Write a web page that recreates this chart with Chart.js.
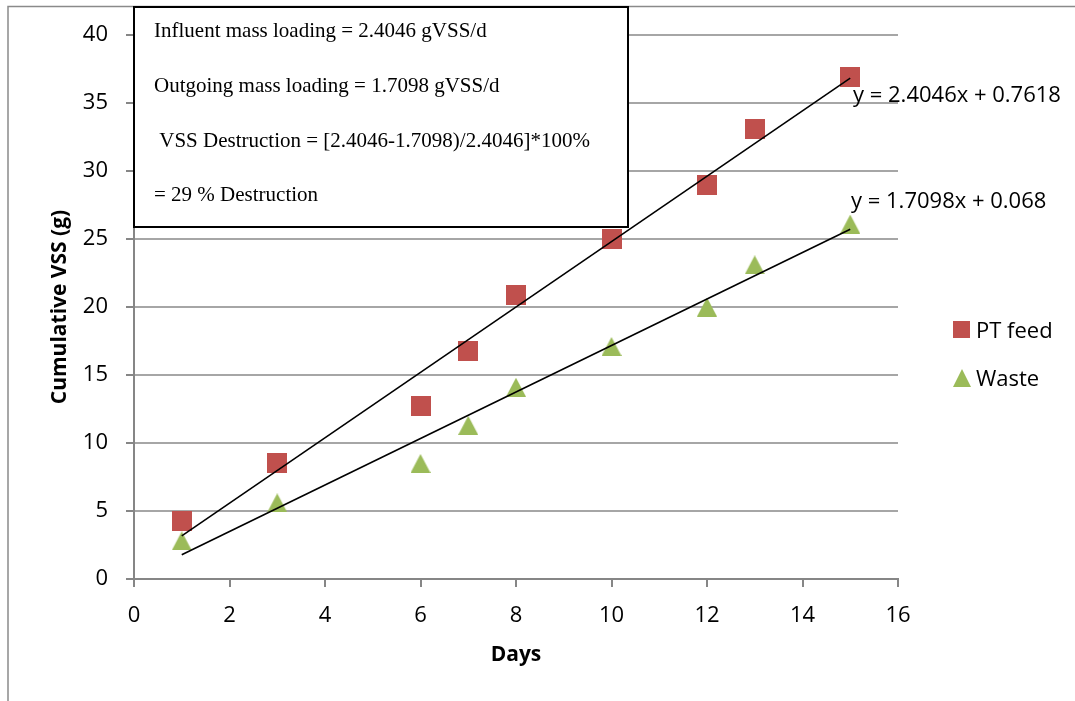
<!DOCTYPE html>
<html>
<head>
<meta charset="utf-8">
<title>Cumulative VSS</title>
<script src="https://cdn.jsdelivr.net/npm/chart.js@4/dist/chart.umd.min.js"></script>
<style>
  html, body { margin: 0; padding: 0; background: #fff; }
  #wrap { width: 1075px; height: 701px; position: relative; }
</style>
</head>
<body>
<div id="wrap"><canvas id="vssChart"></canvas></div>
<script>
// ---- data ----
const days = [1, 3, 6, 7, 8, 10, 12, 13, 15];
const ptFeed = [4.3, 8.5, 12.7, 16.8, 20.9, 25.0, 29.0, 33.1, 36.9];
const waste = [2.8, 5.6, 8.5, 11.3, 14.1, 17.1, 20.0, 23.1, 26.1];

const seriesNames = ['PT feed', 'Waste'];
const trendSlope = [2.4046, 1.7098];
const trendIntercept = [0.7618, 0.068];
const trendLabels = ['y = 2.4046x + 0.7618', 'y = 1.7098x + 0.068'];

const xTicks = [0, 2, 4, 6, 8, 10, 12, 14, 16];
const yTicks = [0, 5, 10, 15, 20, 25, 30, 35, 40];

const noteLines = [
  'Influent mass loading = 2.4046 gVSS/d',
  'Outgoing mass loading = 1.7098 gVSS/d',
  ' VSS Destruction = [2.4046-1.7098)/2.4046]*100%',
  '= 29 % Destruction'
];

const RED = '#c0504d';
const GREEN = '#9bbb59';

// marker images (Excel style square / triangle)
function makeSquare(s, color) {
  const c = document.createElement('canvas');
  c.width = s; c.height = s;
  const g = c.getContext('2d');
  g.fillStyle = color;
  g.fillRect(0, 0, s, s);
  return c;
}
function makeTriangle(w, h, color) {
  const c = document.createElement('canvas');
  c.width = w; c.height = h;
  const g = c.getContext('2d');
  g.fillStyle = color;
  g.beginPath();
  g.moveTo(w / 2, 0);
  g.lineTo(w, h);
  g.lineTo(0, h);
  g.closePath();
  g.fill();
  return c;
}
const sqMarker = makeSquare(20, RED);
const triMarker = makeTriangle(20, 19, GREEN);
const sqLegend = makeSquare(17, RED);
const triLegend = makeTriangle(18, 18, GREEN);

function trendPoints(i) {
  const x0 = days[0], x1 = days[days.length - 1];
  return [
    { x: x0, y: trendSlope[i] * x0 + trendIntercept[i] },
    { x: x1, y: trendSlope[i] * x1 + trendIntercept[i] }
  ];
}

// extra drawing: frame, text box, equations, legend
const decor = {
  id: 'decor',
  beforeDraw(chart) {
    const { ctx, width, height } = chart;
    ctx.save();
    ctx.fillStyle = '#fff';
    ctx.fillRect(0, 0, width, height);
    ctx.strokeStyle = '#8a8a8a';
    ctx.lineWidth = 1.5;
    ctx.beginPath();
    ctx.moveTo(8, height);
    ctx.lineTo(8, 6.5);
    ctx.lineTo(width, 6.5);
    ctx.stroke();
    ctx.restore();
  },
  beforeDatasetsDraw(chart) {
    const { ctx } = chart;
    ctx.save();
    ctx.fillStyle = '#fff';
    ctx.fillRect(134, 7, 494, 220);
    ctx.strokeStyle = '#000';
    ctx.lineWidth = 2;
    ctx.strokeRect(134, 7, 494, 220);
    ctx.fillStyle = '#000';
    ctx.font = '21px "Liberation Serif", "Times New Roman", serif';
    ctx.textBaseline = 'alphabetic';
    ctx.textAlign = 'left';
    const base = [37, 92, 147, 201];
    noteLines.forEach((t, i) => ctx.fillText(t, 154, base[i]));
    ctx.restore();
  },
  afterDatasetsDraw(chart) {
    const { ctx } = chart;
    ctx.save();
    ctx.fillStyle = '#000';
    ctx.font = '22px "Open Sans", sans-serif';
    ctx.textBaseline = 'alphabetic';
    ctx.textAlign = 'left';
    ctx.fillText(trendLabels[0], 853, 102);
    ctx.fillText(trendLabels[1], 851, 208);

    // legend
    ctx.drawImage(sqLegend, 953, 321);
    ctx.fillText(seriesNames[0], 976, 338);
    ctx.drawImage(triLegend, 953, 369);
    ctx.fillText(seriesNames[1], 976, 386);
    ctx.restore();
  }
};

Chart.defaults.font.family = '"Open Sans", sans-serif';
Chart.defaults.color = '#000';

new Chart(document.getElementById('vssChart'), {
  type: 'scatter',
  data: {
    datasets: [
      {
        label: 'trend PT feed',
        data: trendPoints(0),
        showLine: true,
        borderColor: '#000',
        borderWidth: 1.6,
        pointRadius: 0
      },
      {
        label: 'trend Waste',
        data: trendPoints(1),
        showLine: true,
        borderColor: '#000',
        borderWidth: 1.6,
        pointRadius: 0
      },
      {
        label: seriesNames[0],
        data: days.map((d, i) => ({ x: d, y: ptFeed[i] })),
        pointStyle: sqMarker,
        pointRadius: 10,
        backgroundColor: RED,
        borderColor: RED
      },
      {
        label: seriesNames[1],
        data: days.map((d, i) => ({ x: d, y: waste[i] })),
        pointStyle: triMarker,
        pointRadius: 10,
        backgroundColor: GREEN,
        borderColor: GREEN
      }
    ]
  },
  options: {
    responsive: true,
    maintainAspectRatio: false,
    animation: false,
    events: [],
    layout: { padding: { left: 8, right: 177, top: 35, bottom: 0 } },
    plugins: {
      legend: { display: false },
      tooltip: { enabled: false }
    },
    scales: {
      x: {
        type: 'linear',
        min: 0,
        max: 16,
        afterBuildTicks: s => { s.ticks = xTicks.map(v => ({ value: v })); },
        afterFit: s => { s.height = 122; },
        border: { color: '#868686', width: 2 },
        grid: { drawOnChartArea: false, drawTicks: true, tickLength: 8, color: '#868686', lineWidth: 2 },
        ticks: { padding: 16, font: { size: 22 }, color: '#000' },
        title: {
          display: true,
          text: 'Days',
          font: { size: 21, weight: 'bold' },
          color: '#000',
          padding: { top: 0, bottom: 33 }
        }
      },
      y: {
        type: 'linear',
        min: 0,
        max: 40,
        afterBuildTicks: s => { s.ticks = yTicks.map(v => ({ value: v })); },
        afterFit: s => { s.width = 126; },
        border: { color: '#868686', width: 2 },
        grid: { color: '#a6a6a6', lineWidth: 2, tickLength: 8, tickColor: '#868686' },
        ticks: { padding: 18, font: { size: 22 }, color: '#000' },
        title: {
          display: true,
          text: 'Cumulative VSS (g)',
          font: { size: 21, weight: 'bold' },
          color: '#000',
          padding: { top: 39, bottom: 0 }
        }
      }
    }
  },
  plugins: [decor]
});
</script>
</body>
</html>
